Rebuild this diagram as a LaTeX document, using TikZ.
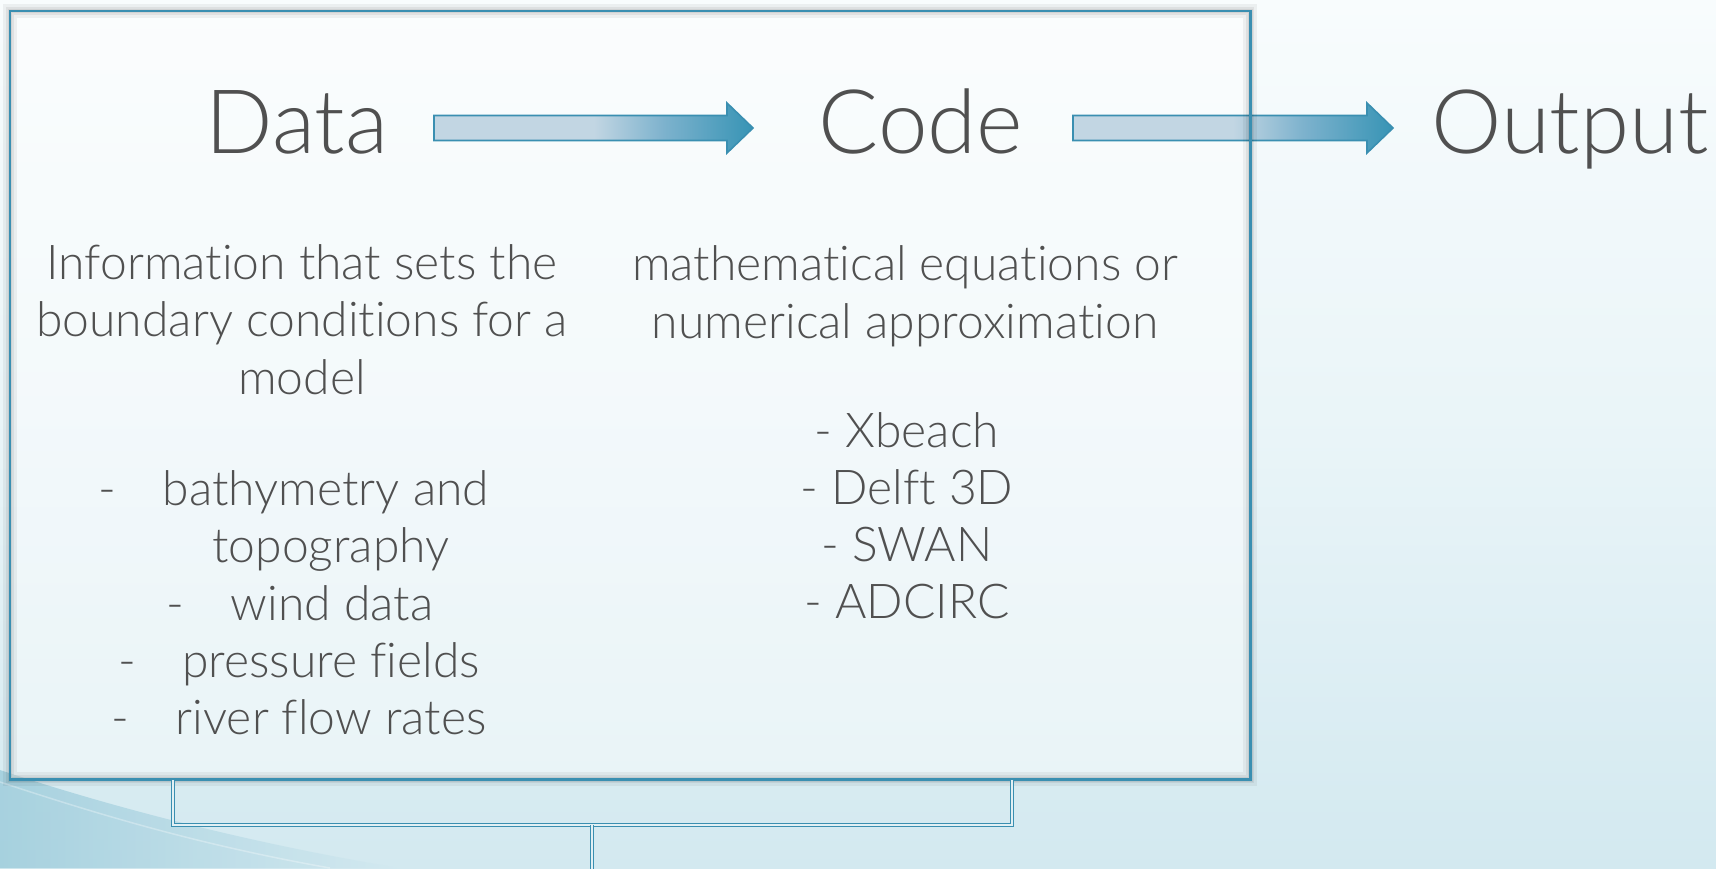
\documentclass[tikz,border=0pt]{standalone}
\usepackage{fontspec}
\IfFontExistsTF{Lato Light}
  {\setmainfont{Lato Light}[Ligatures={NoCommon,NoContextual,NoRare,NoRequired}]}
  {\setmainfont{TeX Gyre Heros}}
\usetikzlibrary{calc}

\definecolor{frameblue}{HTML}{3A8FB1}
\definecolor{arrowlight}{HTML}{C2D6E3}
\definecolor{arrowmid}{HTML}{7DB2CD}
\definecolor{arrowdark}{HTML}{3794B5}
\definecolor{inkgrey}{HTML}{505050}
\definecolor{bgtop}{HTML}{F8FCFD}
\definecolor{bgbot}{HTML}{D3E9F0}
\definecolor{swoosh}{HTML}{9FCDDC}
\definecolor{bracketfill}{HTML}{E2F0F4}

% light on the left half, darkening towards the tip
\pgfdeclarehorizontalshading{fatarrowshade}{100bp}{%
  color(0bp)=(arrowlight); color(25bp)=(arrowlight); color(50bp)=(arrowlight);
  color(61bp)=(arrowmid); color(75bp)=(arrowdark); color(100bp)=(arrowdark)}

\tikzset{
  title/.style={font=\fontsize{89}{105}\selectfont, text=inkgrey, inner sep=0pt, anchor=base},
  body/.style={font=\fontsize{48}{57}\selectfont, text=inkgrey, inner sep=0pt, anchor=base},
  dashmark/.style={body, anchor=base east},
  fatarrow/.style={draw=frameblue, line width=1.6pt, line join=miter, shading=fatarrowshade},
  bracket/.style={draw=frameblue, line width=0.9pt, double=bracketfill, double distance=2.6pt},
}
% keep letter pairs such as t-i and f-l apart
\newcommand\nl{\kern0pt}

\begin{document}
\begin{tikzpicture}[x=1pt, y=-1pt]
\useasboundingbox (0,0) rectangle (1716,868);

% background
\shade[top color=bgtop, bottom color=bgbot, middle color=bgtop!60!bgbot] (0,0) rectangle (1716,868);
\shade[left color=swoosh, right color=bgbot, opacity=0.85]
  (0,770) .. controls (120,810) and (260,845) .. (400,868) -- (0,868) -- cycle;
\draw[white, opacity=0.3, line width=1.5pt]
  (0,782) .. controls (100,815) and (200,845) .. (330,868);

% frame fill
\node[minimum width=1240pt, minimum height=768pt, anchor=north west,
      fill=white, fill opacity=0.45, inner sep=0pt] (frame) at (10,11) {};

% titles
\node[title] (data) at (297,153) {Data};
\node[title] (code) at (921,153) {Code};
\node[title] (output) at (1570,153) {Output};

% arrows
\coordinate (a1s) at (434,128);
\coordinate (a1e) at (753,128);
\coordinate (a2s) at (1073,128);
\coordinate (a2e) at (1393,128);
\path[fatarrow] (a1s) ++(0,-12.5) -- ++(293,0) -- ++(0,-12.5) -- (a1e)
  -- ++(-26,25) -- ++(0,-12.5) -- ++(-293,0) -- cycle;
\path[fatarrow] (a2s) ++(0,-12.5) -- ++(294,0) -- ++(0,-12.5) -- (a2e)
  -- ++(-26,25) -- ++(0,-12.5) -- ++(-294,0) -- cycle;

% frame border with soft halo
\draw[black, opacity=0.05, line width=14pt] (frame.north west) rectangle (frame.south east);
\draw[black, opacity=0.06, line width=8pt] (frame.north west) rectangle (frame.south east);
\draw[black, opacity=0.06, line width=4.5pt] (frame.north west) rectangle (frame.south east);
\draw[frameblue, line width=2.2pt] (frame.north west) rectangle (frame.south east);

% data description
\node[body] (info1) at (302,279) {Informat\nl ion that sets the};
\node[body] (info2) at (302,336) {boundary condit\nl ions for a};
\node[body] (info3) at (302,394) {model};

\node[body] (item1) at (326,505) {bathymetry and};
\node[body] (item1b) at (331,562) {topography};
\node[body] (item2) at (332,620) {wind data};
\node[body] (item3) at (331,677) {pressure f\nl ields};
\node[body] (item4) at (331,734) {river f\nl low rates};
\foreach \n in {item1,item2,item3,item4}
  \node[dashmark] (\n dash) at ($(\n.base west)+(-46,0)$) {-};

% code description
\node[body] (eq1) at (905,280) {mathemat\nl ical equat\nl ions or};
\node[body] (eq2) at (905,338) {numerical approximat\nl ion};
\node[body] (m1) at (907,447) {- Xbeach};
\node[body] (m2) at (907,504) {- Delf\nl t 3D};
\node[body] (m3) at (907,561) {- SWAN};
\node[body] (m4) at (907,618) {- ADCIRC};

% bracket below the frame
\coordinate (bl) at (173,780);
\coordinate (br) at (1012,780);
\coordinate (bbl) at (173,825);
\coordinate (bbr) at (1012,825);
\coordinate (stem) at (592,825);
\coordinate (stemend) at (592,872);
\draw[bracket] (bl) -- (bbl) -- (bbr) -- (br);
\draw[bracket] (stem) -- (stemend);
\end{tikzpicture}
\end{document}
